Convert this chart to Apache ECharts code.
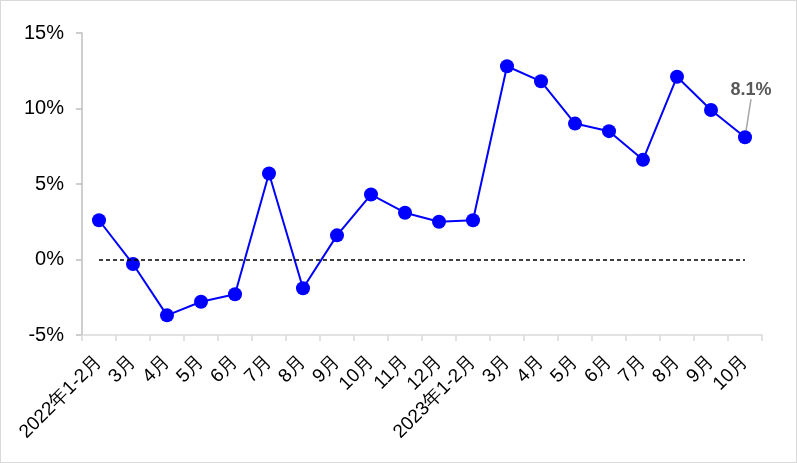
<!DOCTYPE html>
<html>
<head>
<meta charset="utf-8">
<script src="https://cdn.jsdelivr.net/npm/echarts@6/dist/echarts.min.js"></script>
<style>
  html, body { margin: 0; padding: 0; background: #fff; }
  #box { width: 795px; height: 461px; border: 1px solid #d9d9d9; }
</style>
</head>
<body>
<div id="box"></div>
<script>
var categories = ['2022年1-2月', '3月', '4月', '5月', '6月', '7月', '8月', '9月', '10月', '11月', '12月',
    '2023年1-2月', '3月', '4月', '5月', '6月', '7月', '8月', '9月', '10月'];
var growth = [2.6, -0.3, -3.7, -2.8, -2.3, 5.7, -1.9, 1.6, 4.3, 3.1, 2.5,
    2.6, 12.8, 11.8, 9.0, 8.5, 6.6, 12.1, 9.9, 8.1];
var yTicks = [-5, 0, 5, 10, 15];
var lastIdx = growth.length - 1;

var seriesData = growth.map(function (v, i) {
    if (i === lastIdx) {
        return {
            value: v,
            label: {
                show: true,
                formatter: v.toFixed(1) + '%',
                color: '#595959',
                fontWeight: 'bold',
                fontSize: 18,
                fontFamily: 'Liberation Sans, Arial'
            }
        };
    }
    return v;
});

var myChart = echarts.init(document.getElementById('box'));
var option = {
    animation: false,
    grid: {
        left: 81,
        right: 34,
        top: 32,
        bottom: 127
    },
    xAxis: {
        type: 'category',
        data: categories,
        boundaryGap: true,
        axisLine: { show: true, onZero: false, lineStyle: { color: '#d9d9d9', width: 1.5 } },
        axisTick: { show: true, length: 6, lineStyle: { color: '#d9d9d9', width: 1.5 } },
        axisLabel: {
            interval: 0,
            rotate: 45,
            color: '#000',
            fontSize: 19,
            fontFamily: 'Liberation Sans, Arial',
            margin: 24
        }
    },
    yAxis: {
        type: 'value',
        min: yTicks[0],
        max: yTicks[yTicks.length - 1],
        interval: 5,
        axisLine: { show: true, lineStyle: { color: '#bfbfbf', width: 1.5 } },
        axisTick: { show: true, length: 6, lineStyle: { color: '#bfbfbf', width: 1.5 } },
        splitLine: { show: false },
        axisLabel: {
            color: '#000',
            fontSize: 20,
            fontFamily: 'Liberation Sans, Arial',
            margin: 18,
            formatter: '{value}%'
        }
    },
    series: [
        {
            type: 'line',
            data: seriesData,
            symbol: 'circle',
            symbolSize: 14,
            itemStyle: { color: '#0000ff' },
            lineStyle: { color: '#0000ff', width: 2 },
            labelLine: { show: true, lineStyle: { color: '#a6a6a6', width: 1.5 } },
            labelLayout: function (params) {
                if (params.dataIndex === lastIdx) {
                    return { dx: 6, dy: -26 };
                }
                return {};
            },
            markLine: {
                silent: true,
                symbol: 'none',
                label: { show: false },
                lineStyle: { color: '#000', type: [4, 3], width: 1.5 },
                data: [[
                    { coord: [0, 0] },
                    { coord: [lastIdx, 0] }
                ]]
            }
        }
    ]
};
myChart.setOption(option);
</script>
</body>
</html>
